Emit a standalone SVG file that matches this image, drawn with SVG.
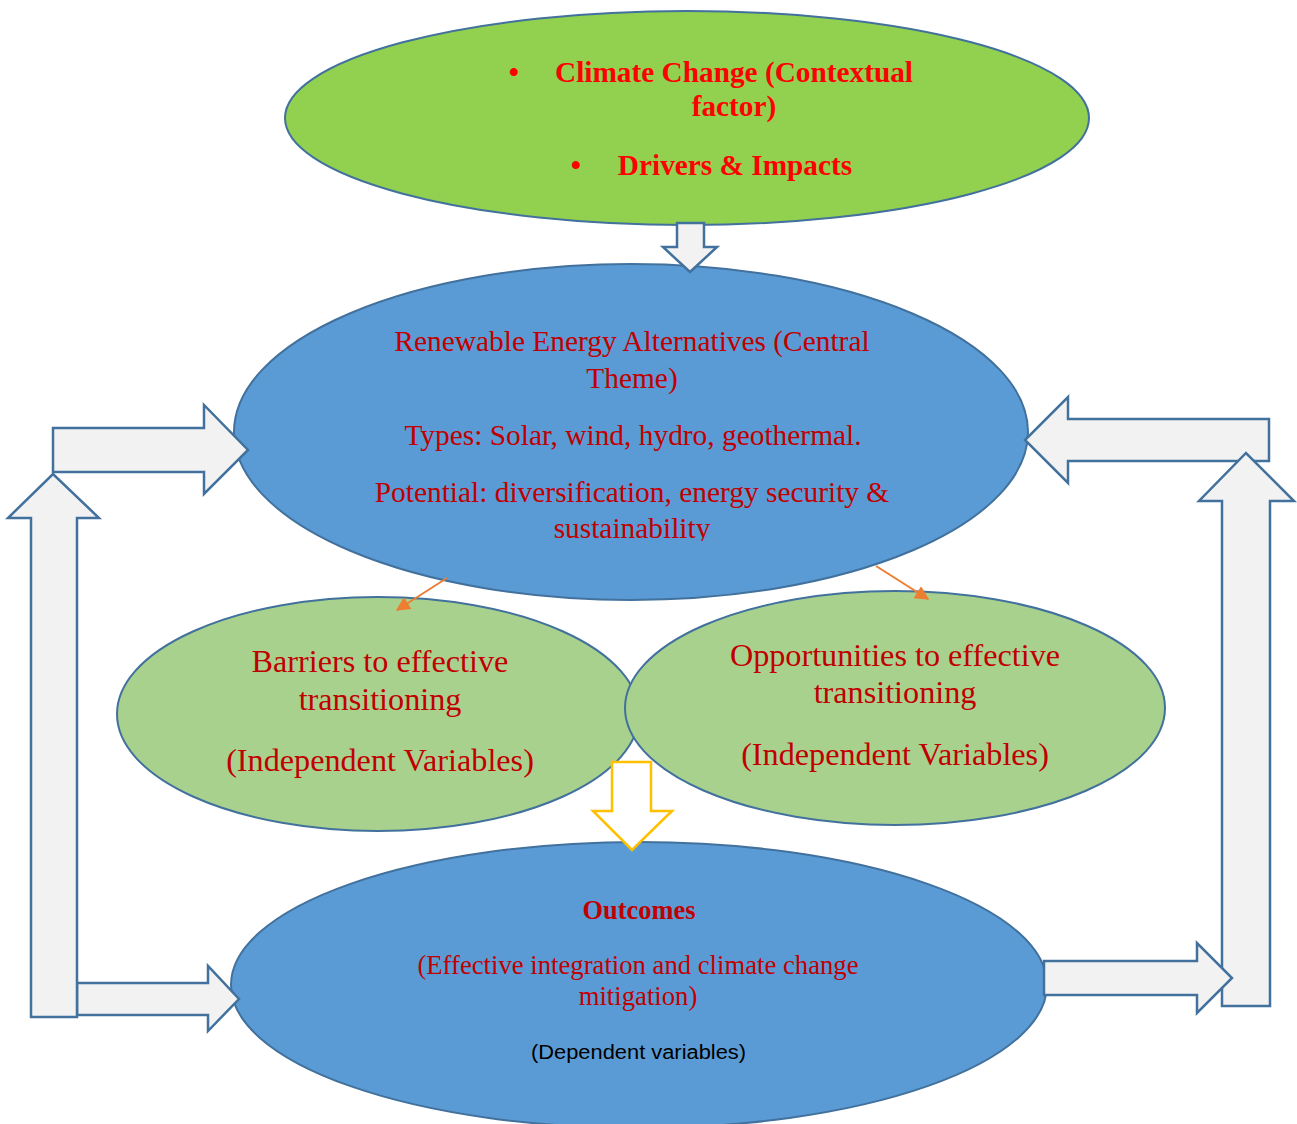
<svg xmlns="http://www.w3.org/2000/svg" width="1297" height="1124" viewBox="0 0 1297 1124">
<style>
.node{stroke:#41719C;stroke-width:2}
.blk{fill:#F2F2F2;stroke:#41719C;stroke-width:2.5;stroke-linejoin:miter}
.ser{font-family:"Liberation Serif","Times New Roman",serif;text-anchor:middle}
.top{font-weight:bold;fill:#FF0000;font-size:29.3px}
.red{fill:#C00000}
.mid{font-size:29.4px}
.grn{font-size:32.2px}
.bot{font-size:26.7px}
.orange{stroke:#ED7D31;stroke-width:2;fill:none}
</style>
<defs>
<marker id="oh" viewBox="0 0 10 10" refX="9" refY="5" markerWidth="8" markerHeight="7" orient="auto" markerUnits="strokeWidth">
<path d="M0,0 L10,5 L0,10 Z" fill="#ED7D31"/>
</marker>
<clipPath id="clipC"><rect x="0" y="0" width="1297" height="541"/></clipPath>
</defs>
<rect width="1297" height="1124" fill="#FFFFFF"/>

<g id="climate">
<ellipse class="node" cx="687" cy="118" rx="402" ry="107" fill="#92D050"/>
<g class="ser top">
<text x="514" y="82">•</text>
<text x="734" y="82">Climate Change (Contextual</text>
<text x="734" y="116">factor)</text>
<text x="576" y="175">•</text>
<text x="735" y="175">Drivers &amp; Impacts</text>
</g>
</g>

<g id="renewable">
<ellipse class="node" cx="631" cy="432" rx="397" ry="168" fill="#5B9BD5"/>
<g class="ser red mid">
<text x="632" y="351">Renewable Energy Alternatives (Central</text>
<text x="632" y="388">Theme)</text>
<text x="633" y="445">Types: Solar, wind, hydro, geothermal.</text>
<text x="632" y="502">Potential: diversification, energy security &amp;</text>
<text x="632" y="538" clip-path="url(#clipC)">sustainability</text>
</g>
</g>

<g id="barriers">
<ellipse class="node" cx="378" cy="714" rx="261" ry="117" fill="#A9D18E"/>
<g class="ser red grn">
<text x="380" y="672">Barriers to effective</text>
<text x="380" y="710">transitioning</text>
<text x="380" y="771">(Independent Variables)</text>
</g>
</g>

<g id="opportunities">
<ellipse class="node" cx="895" cy="708" rx="270" ry="117" fill="#A9D18E"/>
<g class="ser red grn">
<text x="895" y="666">Opportunities to effective</text>
<text x="895" y="703">transitioning</text>
<text x="895" y="765">(Independent Variables)</text>
</g>
</g>

<g id="outcomes">
<ellipse class="node" cx="639" cy="985" rx="408" ry="143" fill="#5B9BD5"/>
<text class="ser red" x="639" y="919" font-size="26.4" font-weight="bold">Outcomes</text>
<g class="ser red bot">
<text x="638" y="974">(Effective integration and climate change</text>
<text x="638" y="1005">mitigation)</text>
</g>
<text x="638.5" y="1059" font-family="'Liberation Sans',Arial,sans-serif" font-size="20" text-anchor="middle" fill="#000000" textLength="215" lengthAdjust="spacingAndGlyphs">(Dependent variables)</text>
</g>

<g id="connectors">
<polygon class="blk" points="677,223 704,223 704,247 717,247 690,272 663,247 677,247"/>
<polygon class="blk" points="53,428 204,428 204,405 248,450 204,494 204,472 53,472"/>
<polygon class="blk" points="77,983 208,983 208,966 239,999 208,1031 208,1015 77,1015"/>
<polygon class="blk" points="31,1017 77,1017 77,518 99,518 53,474 8,518 31,518"/>
<polygon class="blk" points="1269,419 1068,419 1068,397 1025,440 1068,483 1068,461 1269,461"/>
<polygon class="blk" points="1222,1006 1270,1006 1270,501 1294,501 1246,453 1199,501 1222,501"/>
<polygon class="blk" points="1044,961 1197,961 1197,943 1232,978 1197,1013 1197,995 1044,995"/>
<polygon points="612,762 651,762 651,811 672,811 632,850 593,811 612,811" fill="#FFFFFF" stroke="#FFC000" stroke-width="2.5"/>
<line class="orange" x1="447" y1="578" x2="397" y2="610" marker-end="url(#oh)"/>
<line class="orange" x1="876" y1="566" x2="928" y2="599" marker-end="url(#oh)"/>
</g>
</svg>
